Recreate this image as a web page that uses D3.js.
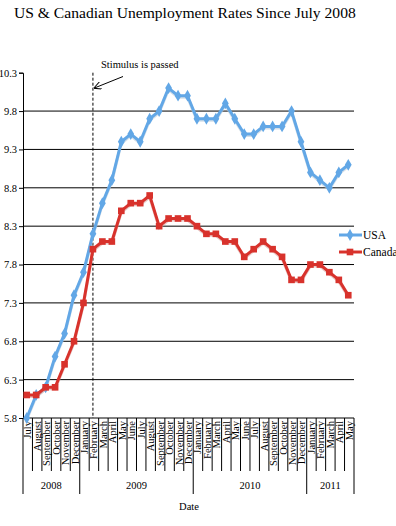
<!DOCTYPE html>
<html>
<head>
<meta charset="utf-8">
<script src="https://cdn.jsdelivr.net/npm/d3@7"></script>
<style>
  body { margin: 0; background: #fff; }
  svg text { font-family: "Liberation Serif", "Times New Roman", serif; fill: #000; }
</style>
</head>
<body>
<div id="chart"></div>
<script>
// months Jul 2008 .. May 2011
const months = ['July', 'August', 'September', 'October', 'November', 'December',
  'January', 'February', 'March', 'April', 'May', 'June', 'July', 'August', 'September', 'October', 'November', 'December',
  'January', 'February', 'March', 'April', 'May', 'June', 'July', 'August', 'September', 'October', 'November', 'December',
  'January', 'February', 'March', 'April', 'May'];
const years = [
  { label: '2008', start: 0, end: 6 },
  { label: '2009', start: 6, end: 18 },
  { label: '2010', start: 18, end: 30 },
  { label: '2011', start: 30, end: 35 }
];
const usa = [5.8, 6.1, 6.2, 6.6, 6.9, 7.4, 7.7, 8.2, 8.6, 8.9, 9.4, 9.5, 9.4, 9.7, 9.8, 10.1, 10.0, 10.0,
  9.7, 9.7, 9.7, 9.9, 9.7, 9.5, 9.5, 9.6, 9.6, 9.6, 9.8, 9.4, 9.0, 8.9, 8.8, 9.0, 9.1];
const canada = [6.1, 6.1, 6.2, 6.2, 6.5, 6.8, 7.3, 8.0, 8.1, 8.1, 8.5, 8.6, 8.6, 8.7, 8.3, 8.4, 8.4, 8.4,
  8.3, 8.2, 8.2, 8.1, 8.1, 7.9, 8.0, 8.1, 8.0, 7.9, 7.6, 7.6, 7.8, 7.8, 7.7, 7.6, 7.4];
const yTicks = [5.8, 6.3, 6.8, 7.3, 7.8, 8.3, 8.8, 9.3, 9.8, 10.3];
const stimulusIndex = 7; // February 2009

const width = 396, height = 526;
const plotLeft = 23, plotRight = 354, plotTop = 72.7, plotBottom = 418;
const serif = '"Liberation Serif", "Times New Roman", serif';

const svg = d3.select('#chart').append('svg')
  .attr('width', width)
  .attr('height', height)
  .attr('font-family', serif);

const x = d3.scaleBand()
  .domain(d3.range(months.length))
  .range([plotLeft, plotRight]);
const y = d3.scaleLinear()
  .domain([5.8, 10.3])
  .range([plotBottom, plotTop]);
const cx = i => x(i) + x.bandwidth() / 2 - 1;

svg.append('text')
  .attr('x', 14).attr('y', 18)
  .attr('font-size', 15.6)
  .text('US & Canadian Unemployment Rates Since July 2008');

// gridlines
svg.append('g')
  .selectAll('line')
  .data(yTicks.filter(t => t > 5.8 && t < 10.3))
  .join('line')
  .attr('x1', plotLeft).attr('x2', plotRight)
  .attr('y1', d => y(d)).attr('y2', d => y(d))
  .attr('stroke', '#000').attr('stroke-width', 1);

// y axis
const yAxis = svg.append('g')
  .attr('transform', `translate(${plotLeft},0)`)
  .call(d3.axisLeft(y).tickValues(yTicks).tickFormat(d3.format('.1f')).tickSize(4).tickPadding(2));
yAxis.attr('font-family', serif);
yAxis.select('.domain').attr('stroke', '#000');
yAxis.selectAll('text').attr('font-size', 10.5);

// x axis line
svg.append('line')
  .attr('x1', plotLeft).attr('x2', plotRight)
  .attr('y1', plotBottom).attr('y2', plotBottom)
  .attr('stroke', '#000');

// month separators
svg.append('g')
  .selectAll('line')
  .data(d3.range(months.length + 1))
  .join('line')
  .attr('x1', i => plotLeft + i * x.step()).attr('x2', i => plotLeft + i * x.step())
  .attr('y1', plotBottom)
  .attr('y2', plotBottom + 53)
  .attr('stroke', '#000');

// year separators
const yearEdges = [0].concat(years.map(d => d.end));
svg.append('g')
  .selectAll('line')
  .data(yearEdges)
  .join('line')
  .attr('x1', i => plotLeft + i * x.step()).attr('x2', i => plotLeft + i * x.step())
  .attr('y1', plotBottom + 53)
  .attr('y2', plotBottom + 76)
  .attr('stroke', '#000');

// month labels
svg.append('g')
  .selectAll('text')
  .data(months)
  .join('text')
  .attr('transform', (d, i) => `translate(${x(i) + x.bandwidth() / 2 + 3.5},${plotBottom + 3}) rotate(-90)`)
  .attr('text-anchor', 'end')
  .attr('font-size', 10.5)
  .text(d => d);

// year labels
svg.append('g')
  .selectAll('text')
  .data(years)
  .join('text')
  .attr('x', d => plotLeft + (d.start + d.end) / 2 * x.step())
  .attr('y', plotBottom + 71)
  .attr('text-anchor', 'middle')
  .attr('font-size', 10.5)
  .text(d => d.label);

svg.append('text')
  .attr('x', 189).attr('y', plotBottom + 92)
  .attr('text-anchor', 'middle')
  .attr('font-size', 10.5)
  .text('Date');

// stimulus line
svg.append('line')
  .attr('x1', cx(stimulusIndex)).attr('x2', cx(stimulusIndex))
  .attr('y1', plotTop).attr('y2', plotBottom)
  .attr('stroke', '#000').attr('stroke-dasharray', '3,2');

const defs = svg.append('defs');
defs.append('marker')
  .attr('id', 'arrow')
  .attr('viewBox', '0 0 10 10')
  .attr('refX', 9).attr('refY', 5)
  .attr('markerWidth', 8).attr('markerHeight', 8)
  .attr('markerUnits', 'userSpaceOnUse')
  .attr('orient', 'auto')
  .append('path')
  .attr('d', 'M0,0 L10,5 L0,10')
  .attr('fill', 'none').attr('stroke', '#000').attr('stroke-width', 1.2);

svg.append('line')
  .attr('x1', 123).attr('y1', 76.5)
  .attr('x2', cx(stimulusIndex) + 1.5).attr('y2', 88)
  .attr('stroke', '#000').attr('stroke-width', 1)
  .attr('marker-end', 'url(#arrow)');

svg.append('text')
  .attr('x', 101).attr('y', 68)
  .attr('font-size', 10.5)
  .text('Stimulus is passed');

// series
const series = [
  { name: 'USA', values: usa, color: '#62A7E6', shadow: '#b9c9d8', marker: d3.symbolDiamond, size: 40 },
  { name: 'Canada', values: canada, color: '#D8322C', shadow: '#d9a3a0', marker: d3.symbolSquare, size: 44 }
];

const line = d3.line().x((d, i) => cx(i)).y(d => y(d));

series.forEach(s => {
  const g = svg.append('g');
  g.append('path')
    .datum(s.values)
    .attr('d', line)
    .attr('transform', 'translate(0,1.5)')
    .attr('fill', 'none')
    .attr('stroke', s.shadow)
    .attr('stroke-width', 3)
    .attr('opacity', 0.6);
  g.append('path')
    .datum(s.values)
    .attr('d', line)
    .attr('fill', 'none')
    .attr('stroke', s.color)
    .attr('stroke-width', 3)
    .attr('stroke-linejoin', 'round');
  g.selectAll('path.pt')
    .data(s.values)
    .join('path')
    .attr('class', 'pt')
    .attr('transform', (d, i) => `translate(${cx(i)},${y(d)})`)
    .attr('d', d3.symbol().type(s.marker).size(s.size))
    .attr('fill', s.color);
});

// legend
const legend = svg.append('g');
series.forEach((s, k) => {
  const ly = 235 + k * 17;
  legend.append('line')
    .attr('x1', 339).attr('x2', 362)
    .attr('y1', ly).attr('y2', ly)
    .attr('stroke', s.color).attr('stroke-width', 3);
  legend.append('path')
    .attr('transform', `translate(350,${ly})`)
    .attr('d', d3.symbol().type(s.marker).size(s.size))
    .attr('fill', s.color);
  legend.append('text')
    .attr('x', 363).attr('y', ly + 4)
    .attr('font-size', 11.5)
    .text(s.name);
});
</script>
</body>
</html>
